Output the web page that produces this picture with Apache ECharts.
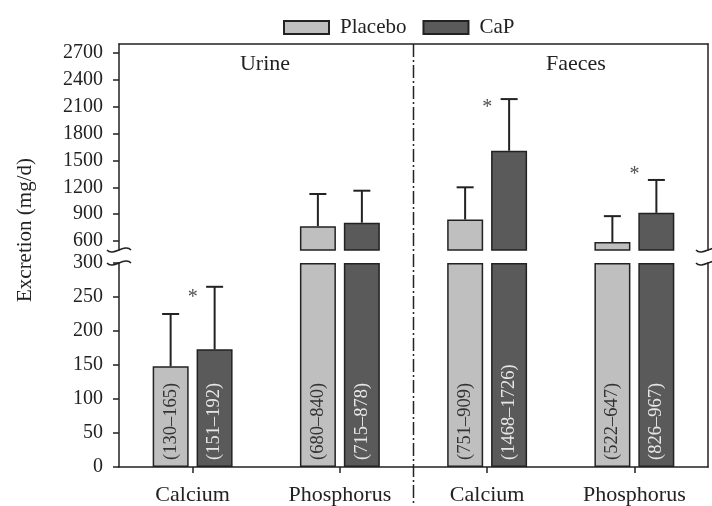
<!DOCTYPE html>
<html>
<head>
<meta charset="utf-8">
<script src="https://cdn.jsdelivr.net/npm/echarts@6/dist/echarts.min.js"></script>
<style>
  html, body { margin: 0; padding: 0; background: #fff; }
  #chart { width: 712px; height: 506px; }
</style>
</head>
<body>
<div id="chart"></div>
<script>
// data
var categories = ["Calcium", "Phosphorus", "Calcium", "Phosphorus"];
var placeboMean = [148, 765, 840, 588];
var placeboErrTop = [225, 1125, 1200, 878];
var capMean = [173, 805, 1608, 915];
var capErrTop = [265, 1162, 2185, 1282];
var placeboRange = ["(130–165)", "(680–840)", "(751–909)", "(522–647)"];
var capRange = ["(151–192)", "(715–878)", "(1468–1726)", "(826–967)"];
var starValues = [256, null, 2140, 1400];
var lowerTicks = [0, 50, 100, 150, 200, 250, 300];
var upperTicks = [600, 900, 1200, 1500, 1800, 2100, 2400, 2700];
var breakLow = 300;   // top of lower panel
var breakHigh = 500;  // bottom of upper panel
var upperMax = 2800;

var FONT = "Liberation Serif";
var INK = "#222";
var LIGHT = "#bfbfbf";
var DARK = "#5a5a5a";
var BAR_W = 36;
var OFFSET = 22; // half of bar width + gap

function lowerVals(arr) {
  return arr.map(function (v) { return Math.min(v, breakLow); });
}
function upperVals(arr) {
  return arr.map(function (v) { return v > breakHigh ? v : "-"; });
}
function errData(mean, top, upper) {
  var out = [];
  for (var i = 0; i < mean.length; i++) {
    var inUpper = mean[i] > breakHigh;
    if (inUpper === upper) out.push([i, mean[i], top[i]]);
  }
  return out;
}
function errRender(dx) {
  return function (params, api) {
    var lo = api.coord([api.value(0), api.value(1)]);
    var hi = api.coord([api.value(0), api.value(2)]);
    var x = lo[0] + dx;
    var st = { stroke: INK, lineWidth: 2 };
    return {
      type: "group",
      children: [
        { type: "line", shape: { x1: x, y1: lo[1], x2: x, y2: hi[1] }, style: st },
        { type: "line", shape: { x1: x - 8.5, y1: hi[1], x2: x + 8.5, y2: hi[1] }, style: st }
      ]
    };
  };
}
function rangeLabel(texts, color) {
  return {
    show: true,
    position: "insideBottom",
    rotate: 90,
    align: "left",
    verticalAlign: "middle",
    distance: 7,
    fontFamily: FONT,
    fontSize: 18.5,
    color: color,
    formatter: function (p) { return texts[p.dataIndex]; }
  };
}
function starData(upper) {
  var out = [];
  starValues.forEach(function (v, i) {
    if (v != null && (v > breakHigh) === upper) out.push([i, v]);
  });
  return out;
}
var starLabel = {
  show: true, position: "inside", formatter: "*",
  fontFamily: FONT, fontSize: 20, color: INK, offset: [0, 5]
};
function plain(v) { return String(v); }

var axisLineStyle = { color: INK, width: 1.5 };
var tickFont = { fontFamily: FONT, fontSize: 20, color: INK, margin: 16, formatter: plain };
var chart = echarts.init(document.getElementById("chart"));

var option = {
  animation: false,
  backgroundColor: "#fff",
  legend: {
    data: ["Placebo", "CaP"],
    top: 12,
    left: 278,
    itemWidth: 45,
    itemHeight: 13,
    itemGap: 16,
    icon: "rect",
    textStyle: { fontFamily: FONT, fontSize: 21, color: INK, padding: [0, 0, 0, 6] }
  },
  grid: [
    { left: 119, right: 4, top: 44, height: 206 },
    { left: 119, right: 4, top: 263, bottom: 38 }
  ],
  xAxis: [
    {
      type: "category", gridIndex: 0, data: categories, position: "top",
      axisLine: { show: true, lineStyle: axisLineStyle },
      axisTick: { show: false }, axisLabel: { show: false }
    },
    {
      type: "category", gridIndex: 1, data: categories,
      axisLine: { show: true, lineStyle: axisLineStyle },
      axisTick: { show: true, alignWithLabel: true, length: 6, lineStyle: axisLineStyle },
      axisLabel: { fontFamily: FONT, fontSize: 22, color: INK, margin: 17 }
    }
  ],
  yAxis: [
    {
      type: "value", gridIndex: 0, min: breakHigh, max: upperMax,
      axisLine: { show: true, lineStyle: axisLineStyle },
      axisTick: { show: true, length: 6, lineStyle: axisLineStyle, customValues: upperTicks },
      axisLabel: Object.assign({ customValues: upperTicks }, tickFont),
      splitLine: { show: false }
    },
    {
      type: "value", gridIndex: 0, position: "right", min: breakHigh, max: upperMax,
      axisLine: { show: true, lineStyle: axisLineStyle },
      axisTick: { show: false }, axisLabel: { show: false }, splitLine: { show: false }
    },
    {
      type: "value", gridIndex: 1, min: 0, max: breakLow, interval: 50,
      axisLine: { show: true, lineStyle: axisLineStyle },
      axisTick: { show: true, length: 6, lineStyle: axisLineStyle, customValues: lowerTicks },
      axisLabel: Object.assign({ customValues: lowerTicks }, tickFont),
      splitLine: { show: false }
    },
    {
      type: "value", gridIndex: 1, position: "right", min: 0, max: breakLow,
      axisLine: { show: true, lineStyle: axisLineStyle },
      axisTick: { show: false }, axisLabel: { show: false }, splitLine: { show: false }
    }
  ],
  series: [
    {
      name: "Placebo", type: "bar", xAxisIndex: 1, yAxisIndex: 2,
      data: lowerVals(placeboMean), barWidth: BAR_W, barGap: "22%",
      itemStyle: { color: LIGHT, borderColor: INK, borderWidth: 1.5 },
      label: rangeLabel(placeboRange, "#333")
    },
    {
      name: "CaP", type: "bar", xAxisIndex: 1, yAxisIndex: 2,
      data: lowerVals(capMean), barWidth: BAR_W, barGap: "22%",
      itemStyle: { color: DARK, borderColor: INK, borderWidth: 1.5 },
      label: rangeLabel(capRange, "#e6e6e6")
    },
    {
      name: "Placebo", type: "bar", xAxisIndex: 0, yAxisIndex: 0,
      data: upperVals(placeboMean), barWidth: BAR_W, barGap: "22%",
      itemStyle: { color: LIGHT, borderColor: INK, borderWidth: 1.5 }
    },
    {
      name: "CaP", type: "bar", xAxisIndex: 0, yAxisIndex: 0,
      data: upperVals(capMean), barWidth: BAR_W, barGap: "22%",
      itemStyle: { color: DARK, borderColor: INK, borderWidth: 1.5 }
    },
    { type: "custom", xAxisIndex: 1, yAxisIndex: 2, z: 3, renderItem: errRender(-OFFSET), data: errData(placeboMean, placeboErrTop, false) },
    { type: "custom", xAxisIndex: 1, yAxisIndex: 2, z: 3, renderItem: errRender(OFFSET), data: errData(capMean, capErrTop, false) },
    { type: "custom", xAxisIndex: 0, yAxisIndex: 0, z: 3, renderItem: errRender(-OFFSET), data: errData(placeboMean, placeboErrTop, true) },
    { type: "custom", xAxisIndex: 0, yAxisIndex: 0, z: 3, renderItem: errRender(OFFSET), data: errData(capMean, capErrTop, true) },
    {
      type: "scatter", xAxisIndex: 1, yAxisIndex: 2, symbol: "circle", symbolSize: 2,
      itemStyle: { color: "rgba(0,0,0,0)" }, data: starData(false), label: starLabel, z: 4
    },
    {
      type: "scatter", xAxisIndex: 0, yAxisIndex: 0, symbol: "circle", symbolSize: 2,
      itemStyle: { color: "rgba(0,0,0,0)" }, data: starData(true), label: starLabel, z: 4
    }
  ]
};
chart.setOption(option);

// decorations: axis breaks, panel divider, panel titles, y title
var c0 = chart.convertToPixel({ xAxisIndex: 1 }, 0);
var c1 = chart.convertToPixel({ xAxisIndex: 1 }, 1);
var c2 = chart.convertToPixel({ xAxisIndex: 1 }, 2);
var c3 = chart.convertToPixel({ xAxisIndex: 1 }, 3);
var half = (c1 - c0) / 2;
var xLeft = c0 - half;
var xRight = c3 + half;
var divX = (c1 + c2) / 2;
var yBreakUp = chart.convertToPixel({ yAxisIndex: 0 }, breakHigh);
var yBreakLo = chart.convertToPixel({ yAxisIndex: 2 }, breakLow);
var yTop = chart.convertToPixel({ yAxisIndex: 0 }, upperMax);

function tilde(x, y) {
  return {
    type: "bezierCurve", silent: true,
    shape: { x1: x - 12, y1: y, cpx1: x - 6, cpy1: y + 7, cpx2: x + 6, cpy2: y - 7, x2: x + 12, y2: y },
    style: { stroke: INK, lineWidth: 1.5, fill: null }
  };
}

chart.setOption({
  graphic: [
    tilde(xLeft, yBreakUp), tilde(xLeft, yBreakLo),
    tilde(xRight, yBreakUp), tilde(xRight, yBreakLo),
    {
      type: "line", silent: true,
      shape: { x1: divX, y1: yTop, x2: divX, y2: 506 },
      style: { stroke: INK, lineWidth: 1.5, lineDash: [13, 3, 2, 3] }
    },
    { type: "text", x: 265, y: 64, style: { text: "Urine", font: "22px " + FONT, fill: INK, align: "center", verticalAlign: "middle" } },
    { type: "text", x: 576, y: 64, style: { text: "Faeces", font: "22px " + FONT, fill: INK, align: "center", verticalAlign: "middle" } },
    { type: "text", x: 25, y: 230, rotation: Math.PI / 2, style: { text: "Excretion (mg/d)", font: "21px " + FONT, fill: INK, align: "center", verticalAlign: "middle" } }
  ]
});
</script>
</body>
</html>
